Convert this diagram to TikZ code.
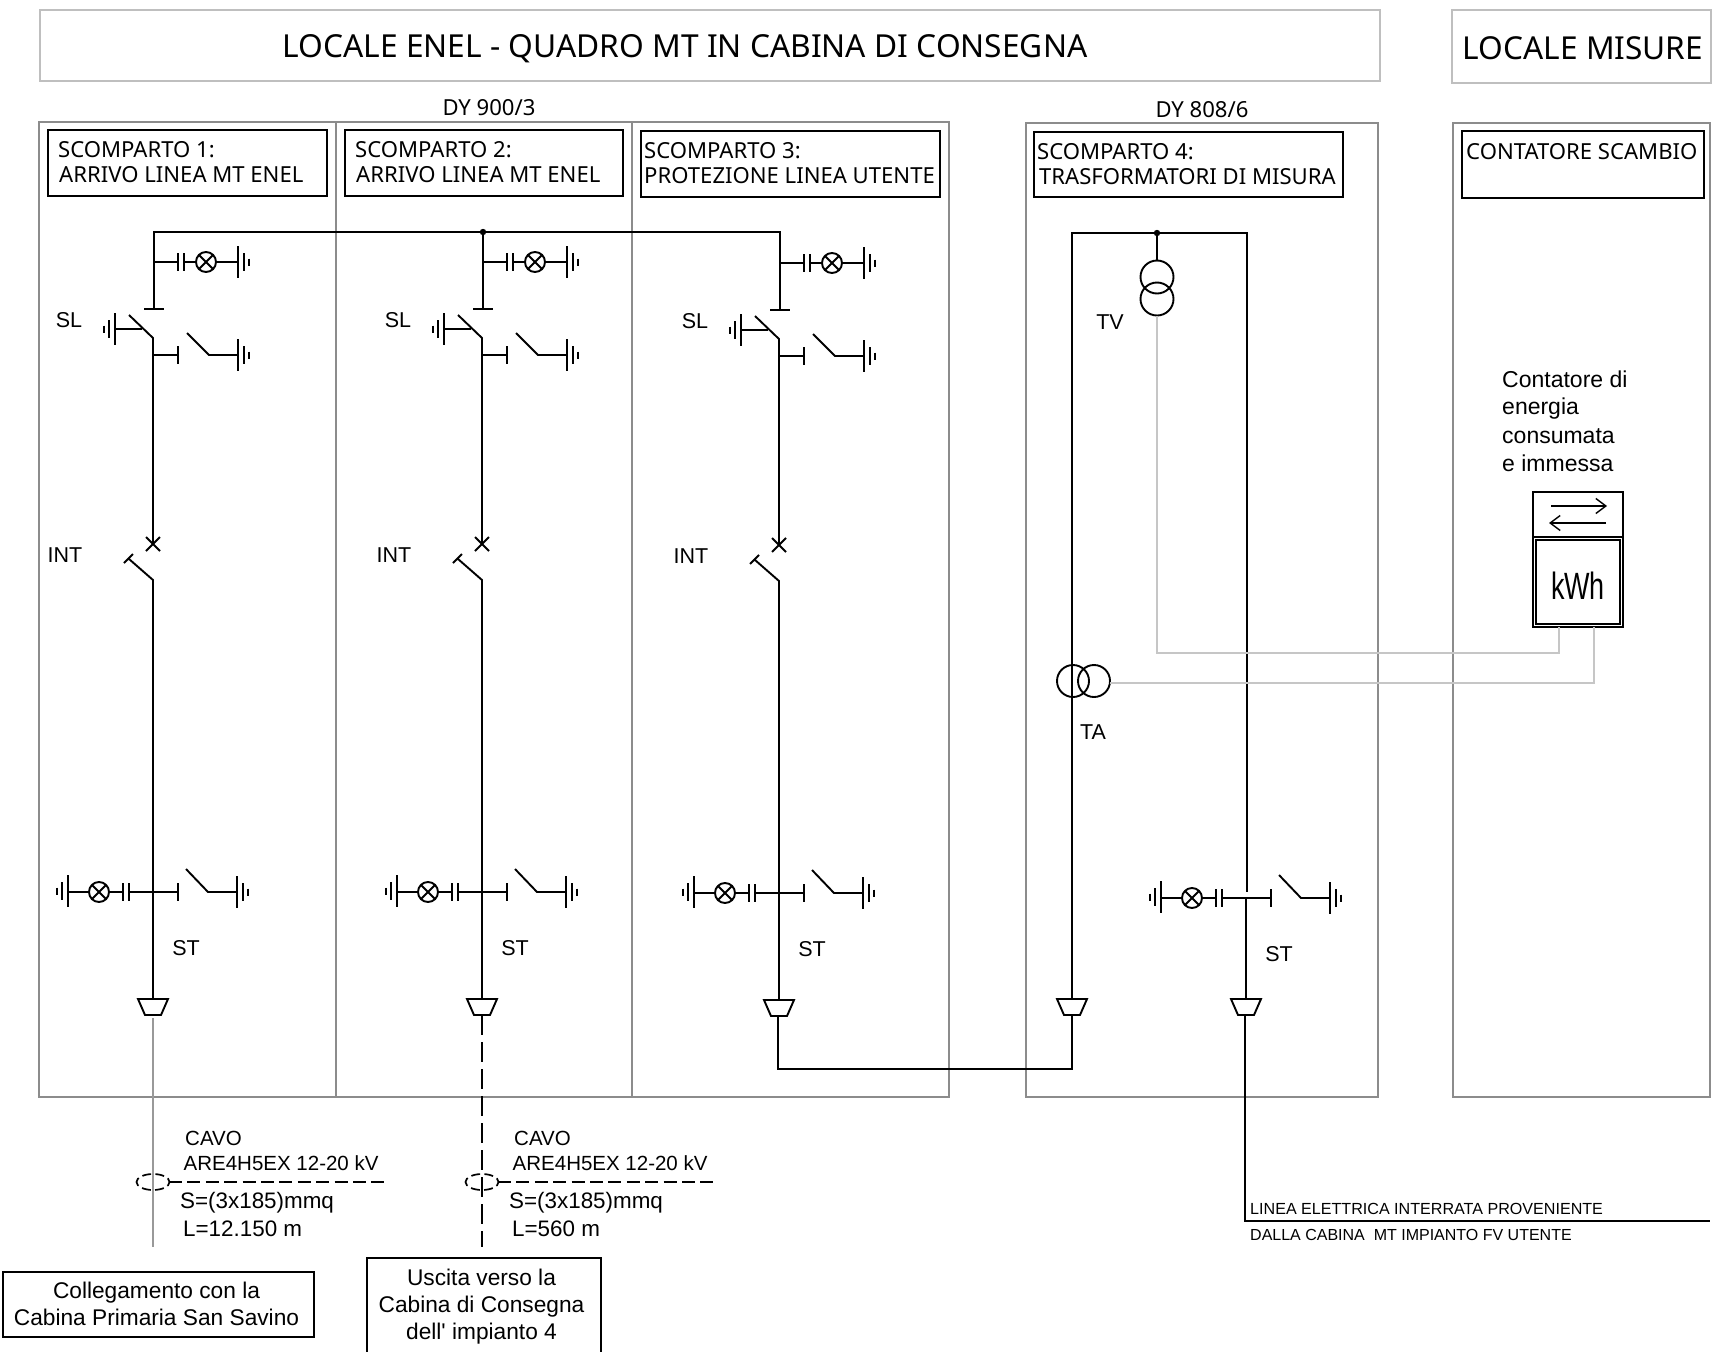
\documentclass[tikz,border=0pt]{standalone}
\usepackage{fontspec}
\usepackage{graphicx}
\setmainfont{Liberation Sans}
\newfontfamily\titolofont{Noto Sans}
\usetikzlibrary{arrows.meta}
\tikzset{
	terra/.pic={ % messa a terra, three plates
		\draw[filo] (0,-16) -- (0,16);
		\draw[filo] (6,-9) -- (6,9);
		\draw[filo] (11,-3.5) -- (11,3.5);
	},
	lampada/.pic={
		\draw[filo] (0,0) circle (10);
		\draw[filo] (-7,-7) -- (7,7) (-7,7) -- (7,-7);
	},
	piastra/.pic={\draw[filo] (0,-9) -- (0,9);},
	terminale/.pic={\draw[filo] (-15,0) -- (15,0) -- (8,16) -- (-8,16) -- cycle;},
}
\newcommand{\gruppoST}{ % earthing group at the foot of a bay
	\draw[filo] (178,892) -- (129,892);
	\draw[filo] (123,892) -- (109,892) (89,892) -- (68,892);
	\pic at (178,892) {piastra};
	\pic at (129,892) {piastra};
	\pic at (123,892) {piastra};
	\pic at (99,892) {lampada};
	\pic[xscale=-1] at (68,891) {terra};
	\draw[filo] (186,869) -- (208,892) -- (237,892);
	\pic at (237,892) {terra};
}
\begin{document}
\begin{tikzpicture}[x=1pt,y=-1pt]
	\tikzstyle{filo}=[line width=1.9pt,black]
	\tikzstyle{cornice}=[line width=2.4pt,draw=gray!90]
	\tikzstyle{testata}=[line width=2.2pt,draw=gray!50]
	\tikzstyle{riquadro}=[line width=1.8pt,draw=black]
	\tikzstyle{segnale}=[line width=1.8pt,draw=gray!45]
	\tikzstyle{tit}=[inner sep=0,font=\titolofont\fontsize{22.1}{26}\selectfont,anchor=west]
	\tikzstyle{lab}=[inner sep=0,font=\fontsize{21.5}{26}\selectfont]
	\tikzstyle{cav}=[inner sep=0,font=\fontsize{21}{26}\selectfont,anchor=west]
	\useasboundingbox (0,0) rectangle (1714,1352);
	% testate
	\draw[testata] (40,10) rectangle (1380,81);
	\draw[testata] (1452,10) rectangle (1711,83);
	\node[tit,font=\titolofont\fontsize{31.7}{36}\selectfont,anchor=center] (titolo) at (685,49) {LOCALE ENEL - QUADRO MT IN CABINA DI CONSEGNA};
	\node[tit,font=\titolofont\fontsize{31.6}{36}\selectfont,anchor=center] (misure) at (1583,48) {LOCALE MISURE};
	\node[tit,anchor=center] (dy1) at (489,108) {DY 900/3};
	\node[tit,anchor=center] (dy2) at (1202,110) {DY 808/6};
	% scomparti
	\draw[cornice] (39,122) rectangle (949,1097);
	\draw[cornice] (336,122) -- (336,1097);
	\draw[cornice] (632,122) -- (632,1097);
	\draw[cornice] (1026,123) rectangle (1378,1097);
	\draw[cornice] (1453,123) rectangle (1710,1097);
	\draw[riquadro] (48,130) rectangle (327,196);
	\draw[riquadro] (345,130) rectangle (623,196);
	\draw[riquadro] (641,131) rectangle (940,197);
	\draw[riquadro] (1034,132) rectangle (1343,197);
	\draw[riquadro] (1462,131) rectangle (1704,198);
	\node[tit] (sc1a) at (58,150) {SCOMPARTO 1:};
	\node[tit] (sc1b) at (59,175) {ARRIVO LINEA MT ENEL};
	\node[tit] (sc2a) at (355,150) {SCOMPARTO 2:};
	\node[tit] (sc2b) at (356,175) {ARRIVO LINEA MT ENEL};
	\node[tit] (sc3a) at (644,151) {SCOMPARTO 3:};
	\node[tit] (sc3b) at (644,176) {PROTEZIONE LINEA UTENTE};
	\node[tit] (sc4a) at (1037,152) {SCOMPARTO 4:};
	\node[tit] (sc4b) at (1039,177) {TRASFORMATORI DI MISURA};
	\node[tit] (cont) at (1466,152) {CONTATORE SCAMBIO};
	% sbarra
	\draw[filo] (154,309) -- (154,232) -- (780,232) -- (780,309);
	\draw[filo] (483,232) -- (483,309);
	\fill (483,232) circle (3.2);
	% le tre colonne
	\foreach \dx/\dy/\n in {0/0/1,329/0/2,626/1/3} {
		\begin{scope}[shift={(\dx,\dy)}]
			\draw[filo] (154,262) -- (178,262) (184,262) -- (196,262) (216,262) -- (238,262);
			\pic at (178,262) {piastra};
			\pic at (184,262) {piastra};
			\pic at (206,262) {lampada};
			\pic at (238,262) {terra};
			\draw[filo] (144,309) -- (164,309);
			\draw[filo] (129,315) -- (153,338) -- (153,544);
			\draw[filo] (115,329) -- (142,329);
			\pic[xscale=-1] at (115,329) {terra};
			\draw[filo] (153,355) -- (178,355);
			\pic at (178,355) {piastra};
			\draw[filo] (187,333) -- (209,355) -- (238,355);
			\pic at (238,355) {terra};
			\draw[filo] (146,537) -- (160,551) (146,551) -- (160,537); % sezionatore
			\draw[filo] (124,563) -- (133,554) (129,559) -- (153,580) -- (153,892);
			\node[lab] (sl\n) at (69,320) {SL};
			\node[lab] (int\n) at (65,555) {INT};
			\node[lab] (st\n) at (186,948) {ST};
		\end{scope}
	}
	\foreach \dx/\dy in {0/0,329/0,626/1} {
		\begin{scope}[shift={(\dx,\dy)}]
			\gruppoST
			\draw[filo] (153,892) -- (153,999);
			\pic at (153,999) {terminale};
		\end{scope}
	}
	% cavi
	\draw[line width=2.2pt,gray!80] (153,1018) -- (153,1247);
	\draw[line width=2.2pt,dash pattern=on 20pt off 7pt] (482,1015) -- (482,1247);
	\foreach \dx/\n/\lung in {0/1/12.150,329/2/560} {
		\begin{scope}[shift={(\dx,0)}]
			\draw[line width=1.7pt,dash pattern=on 9pt off 4.2pt,dash phase=4.5pt] (153,1182) ellipse (16.5 and 8);
			\draw[line width=1.7pt,dash pattern=on 13pt off 5.4pt] (169,1182) -- (384,1182);
			\node[cav,font=\fontsize{20.5}{26}\selectfont] (cavo\n) at (185,1138) {CAVO};
			\node[cav,font=\fontsize{20.5}{26}\selectfont] (tipo\n) at (183.5,1163) {ARE4H5EX 12-20 kV};
			\node[cav,font=\fontsize{22.4}{26}\selectfont] (sez\n) at (180,1203) {S=(3x185)mmq};
			\node[cav,font=\fontsize{22.4}{26}\selectfont] (lun\n) at (183,1229) {L=\lung{} m};
		\end{scope}
	}
	\draw[riquadro] (3,1272) rectangle (314,1337);
	\node[align=center,inner sep=0,font=\fontsize{22.7}{26.5}\selectfont] (primaria) at (156.5,1304) {Collegamento con la\\Cabina Primaria San Savino};
	\draw[riquadro] (367,1258) rectangle (601,1353);
	\node[align=center,inner sep=0,font=\fontsize{22.7}{27}\selectfont] (uscita) at (481.5,1307) {Uscita verso la\\Cabina di Consegna\\dell\textquotesingle{} impianto 4};
	% scomparto 4
	\draw[filo] (1072,999) -- (1072,233) -- (1247,233) -- (1247,892);
	\fill (1157,233) circle (3.2);
	\draw[filo] (1157,233) -- (1157,261);
	\draw[filo] (1157,277) circle (16.5) (1157,299) circle (16.5);
	\draw[filo] (1073,681) circle (16) (1094,681) circle (16);
	\begin{scope}[shift={(1093,6)}]
		\gruppoST
		\draw[filo] (153,892) -- (153,993);
		\pic at (153,993) {terminale};
	\end{scope}
	\pic at (1072,999) {terminale};
	\draw[filo] (778,1016) -- (778,1069) -- (1072,1069) -- (1072,1015);
	\draw[filo] (1245,1015) -- (1245,1221) -- (1710,1221);
	\node[lab] (tv) at (1110,322) {TV};
	\node[lab] (ta) at (1093,732) {TA};
	\node[lab] (st4) at (1279,954) {ST};
	\node[inner sep=0,anchor=west,font=\fontsize{16.1}{20}\selectfont] (linea1) at (1250,1209) {LINEA ELETTRICA INTERRATA PROVENIENTE};
	\node[inner sep=0,anchor=west,font=\fontsize{16}{20}\selectfont] (linea2) at (1250,1235) {DALLA CABINA\ \ MT IMPIANTO FV UTENTE};
	% contatore
	\node[cav,font=\fontsize{23}{26}\selectfont] (ce1) at (1502,379) {Contatore di};
	\node[cav,font=\fontsize{23}{26}\selectfont] (ce2) at (1502,409) {energia};
	\node[cav,font=\fontsize{23}{26}\selectfont] (ce3) at (1502,436) {consumata};
	\node[cav,font=\fontsize{23}{26}\selectfont] (ce4) at (1502,463) {e immessa};
	\draw[riquadro] (1533,492) rectangle (1623,627);
	\draw[riquadro] (1533,537) -- (1623,537);
	\draw[riquadro] (1536,540) rectangle (1620,624);
	\draw[line width=1.4pt,-{Straight Barb[length=10pt,width=15pt]}] (1551,506) -- (1607,506);
	\draw[line width=1.4pt,-{Straight Barb[length=10pt,width=15pt]}] (1606,523) -- (1549,523);
	\node[inner sep=0,font=\fontsize{38}{40}\selectfont] (kwh) at (1578,586) {\scalebox{.71}[1]{kWh}};
	\draw[segnale] (1157,316) -- (1157,653) -- (1559,653) -- (1559,627);
	\draw[segnale] (1110,683) -- (1594,683) -- (1594,627);
\end{tikzpicture}
\end{document}
